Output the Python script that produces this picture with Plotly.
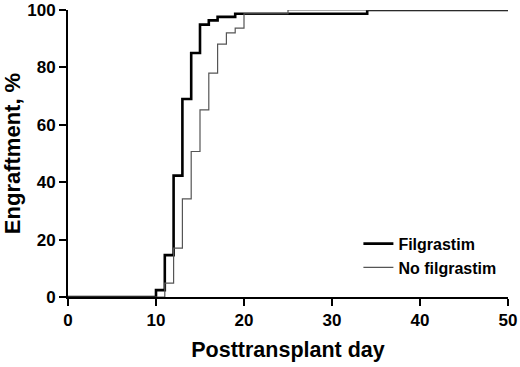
import plotly.graph_objects as go

fil_days = [0, 10, 11, 12, 13, 14, 15, 16, 17, 19, 34, 50]
fil_pct = [0, 2.4, 14.6, 42.3, 69.0, 85.0, 94.9, 96.4, 97.6, 98.7, 100, 100]

nofil_days = [0, 11, 12, 13, 14, 15, 16, 17, 18, 19, 20, 25, 50]
nofil_pct = [0, 4.8, 17.0, 34.2, 50.7, 65.2, 78.0, 88.1, 92.0, 93.7, 98.7, 100, 100]

x_ticks = [0, 10, 20, 30, 40, 50]
y_ticks = [0, 20, 40, 60, 80, 100]

font = "Liberation Sans, Arial, sans-serif"

fig = go.Figure()
fig.add_trace(go.Scatter(x=fil_days, y=fil_pct, mode="lines", line_shape="hv",
                         line=dict(color="black", width=2.6), name="Filgrastim"))
fig.add_trace(go.Scatter(x=nofil_days, y=nofil_pct, mode="lines", line_shape="hv",
                         line=dict(color="#555555", width=1.2), name="No filgrastim"))

fig.update_layout(
    width=520, height=367,
    margin=dict(l=68, r=12, t=10, b=70, autoexpand=False),
    plot_bgcolor="white", paper_bgcolor="white",
    font=dict(family=font, color="black", size=16),
    legend=dict(x=0.66, y=0.245, xanchor="left", yanchor="top",
                bgcolor="rgba(0,0,0,0)", font=dict(size=16, family=font, weight="bold"),
                tracegroupgap=0),
    xaxis=dict(range=[0, 50], tickvals=x_ticks, showgrid=False, zeroline=False,
               showline=True, linecolor="black", linewidth=2, ticks="outside",
               ticklen=7, tickwidth=2, tickcolor="black", layer="above traces",
               automargin=False,
               tickfont=dict(size=17, family=font, weight="bold"),
               title=dict(text="Posttransplant day", font=dict(size=21.5, family=font, weight="bold"), standoff=13)),
    yaxis=dict(range=[0, 100], tickvals=y_ticks, showgrid=False, zeroline=False,
               showline=True, linecolor="black", linewidth=2, ticks="outside",
               ticklen=7, tickwidth=2, tickcolor="black", layer="above traces",
               automargin=False,
               tickfont=dict(size=17, family=font, weight="bold"),
               title=dict(text="Engraftment, %", font=dict(size=22, family=font, weight="bold"), standoff=5)),
)

fig.write_html("out.html", config={"displayModeBar": False},
               post_script="document.body.style.margin='0';document.body.style.overflow='hidden';")
